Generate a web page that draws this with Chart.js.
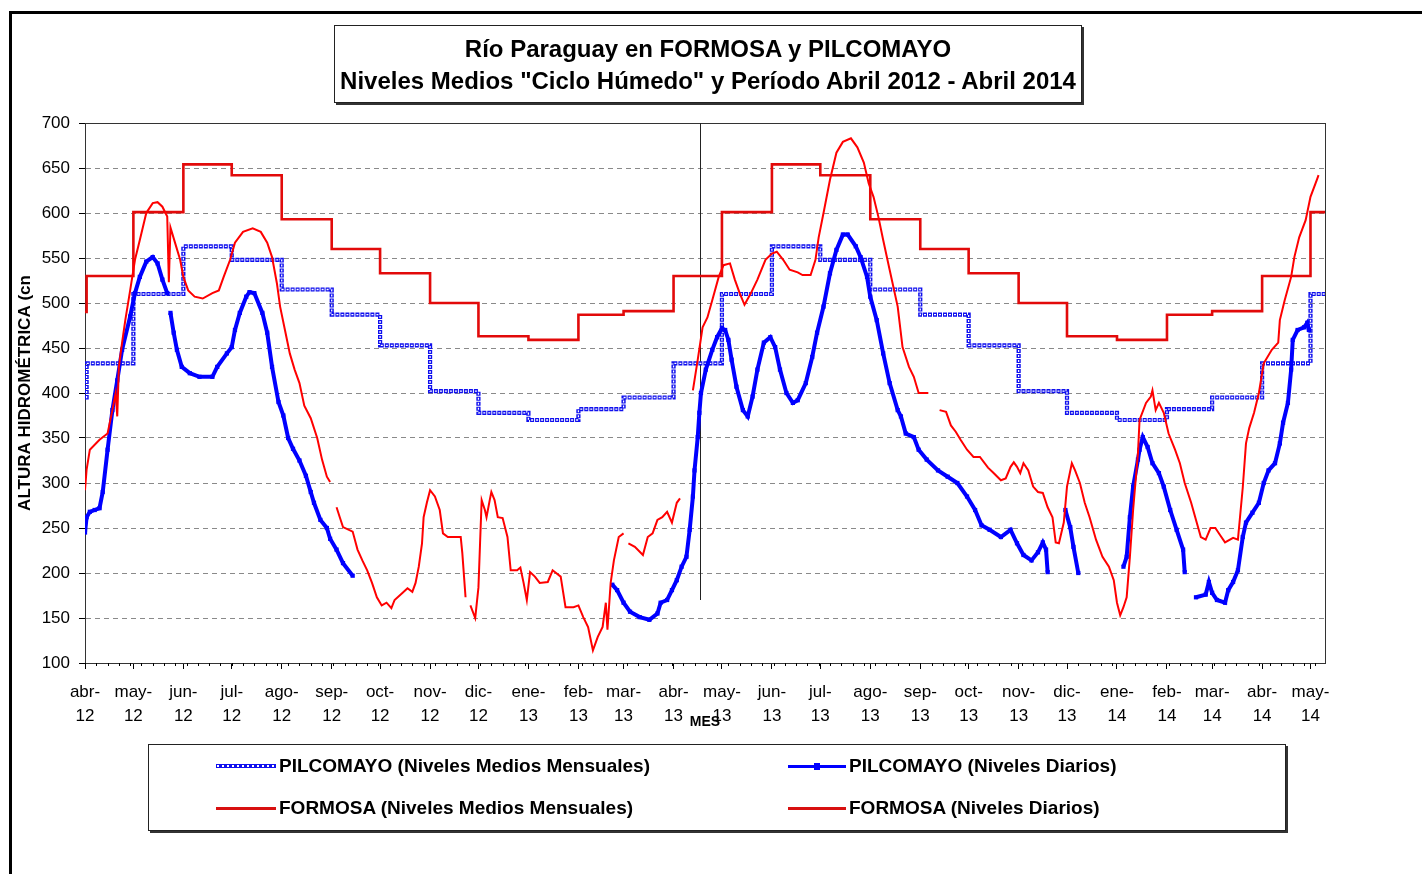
<!DOCTYPE html>
<html>
<head>
<meta charset="utf-8">
<script src="https://cdn.jsdelivr.net/npm/chart.js@4.4.1/dist/chart.umd.min.js"></script>
<style>
html,body{margin:0;padding:0;background:#fff;width:1422px;height:874px;overflow:hidden;font-family:"Liberation Sans",Arial,sans-serif;}
#frame{position:absolute;left:9px;top:11px;width:1420px;height:870px;border-top:3px solid #000;border-left:3px solid #000;}
#c{position:absolute;left:0;top:0;}
#title{position:absolute;left:334px;top:25px;width:746px;height:76px;border:1px solid #222;box-shadow:2px 2px 0 #333;background:#fff;}
#title div{position:absolute;left:0;width:100%;text-align:center;font-weight:bold;font-size:24px;line-height:30px;color:#000;white-space:nowrap;}
#legend{position:absolute;left:148px;top:744px;width:1136px;height:85px;border:1px solid #222;box-shadow:2px 2px 0 #333;background:#fff;}
.item{position:absolute;height:30px;}
.sample{position:absolute;top:13px;height:4px;}
.lbl{position:absolute;top:0;line-height:30px;font-weight:bold;font-size:19px;color:#000;white-space:nowrap;}
</style>
</head>
<body>
<div id="frame"></div>
<canvas id="c" width="1422" height="874"></canvas>
<div id="title">
  <div style="top:8px">Río Paraguay en FORMOSA y PILCOMAYO</div>
  <div style="top:40px">Niveles Medios "Ciclo Húmedo" y Período Abril 2012 - Abril 2014</div>
</div>
<div id="legend"></div>
<script>
// ---------- DATA ----------
const monthLabels = ['abr-12','may-12','jun-12','jul-12','ago-12','sep-12','oct-12','nov-12','dic-12','ene-13','feb-13','mar-13',
                     'abr-13','may-13','jun-13','jul-13','ago-13','sep-13','oct-13','nov-13','dic-13','ene-14','feb-14','mar-14','abr-14','may-14'];
// day offsets (from 1 Apr 2012) of each month start
const monthStartDays = [0,30,61,91,122,153,183,214,244,275,306,334,365,395,426,456,487,518,548,579,609,640,671,699,730,760];
const axisEndDay = 769;
const separatorDay = 381.5;
const separatorLow = 170;

// monthly mean levels (step series), day offsets
const meanDays = [0,1,30,61,91,122,153,183,214,244,275,306,334,365,395,426,456,487,518,548,579,609,640,671,699,730,760,769];
const pilMean  = [395,433,510,563,548,515,487,453,402,378,370,382,395,433,510,563,548,515,487,453,402,378,370,382,395,433,510,510];
const forMean  = [490,530,601,654,642,593,560,533,500,463,459,487,491,530,601,654,642,593,560,533,500,463,459,487,491,530,601,601];

// PILCOMAYO daily levels (null = no data)
const pilDays = [0,1,3,6,9,11,14,17,20,23,28,31,34,38,42,45,48,51,52,53,55,57,60,65,71,79,82,88,91,93,96,100,102,105,110,113,116,120,123,126,129,133,137,140,142,146,150,152,156,160,166,167,
  327,330,334,338,344,350,355,357,361,364,367,370,373,375,377,378,380,381,382,385,389,392,395,397,399,401,404,408,411,414,417,421,425,428,431,435,439,442,447,451,454,458,462,466,470,473,478,481,485,487,491,495,499,504,506,509,514,517,522,529,535,541,547,552,556,561,568,574,578,582,587,591,594,596,597,598,
  608,611,613,616,617,
  644,646,648,650,653,654,656,659,662,666,669,673,677,681,682,683,
  689,695,697,699,702,707,709,712,715,718,720,724,728,731,734,738,741,743,746,748,749,752,756,758,759];
const pilVals = [245,262,268,270,272,290,337,381,414,448,485,511,529,546,551,544,526,511,null,489,467,448,429,422,418,418,429,444,451,470,489,507,512,511,489,467,429,390,375,350,338,325,308,290,278,259,250,238,226,211,197,null,
  187,181,167,157,151,148,155,167,170,181,192,207,218,248,285,314,351,378,400,426,448,462,472,470,459,437,407,381,374,396,426,456,462,451,426,400,389,392,411,440,467,496,533,559,576,576,563,551,529,507,481,444,411,381,374,355,351,337,326,314,307,300,285,270,253,248,240,248,233,220,214,223,234,226,201,null,
  270,251,229,200,null,
  207,218,262,296,326,337,351,340,322,311,296,270,248,226,201,null,
  173,176,190,178,170,167,181,190,203,240,256,267,278,300,314,322,344,367,389,426,459,470,473,478,470];

// FORMOSA daily levels (null = no data)
const forDays = [0,1,3,9,14,17,19,20,21,23,25,28,31,34,38,42,45,48,51,52,53,56,59,61,64,68,73,79,83,86,90,93,98,104,109,113,116,119,121,124,127,130,133,136,140,144,147,150,152,153,
  156,158,160,166,169,172,175,178,181,184,187,190,192,197,200,203,205,207,209,210,212,214,217,220,222,225,233,234,236,237,
  239,242,244,245,246,248,249,251,252,254,256,259,262,264,268,270,272,274,276,279,282,287,290,295,298,303,306,309,312,315,318,321,323,324,326,328,331,334,335,
  337,341,346,349,352,355,358,361,364,367,369,370,
  377,380,383,386,389,393,396,400,403,406,409,413,417,422,426,429,433,437,442,445,450,453,455,458,462,466,470,475,479,483,486,489,492,495,499,504,507,511,514,517,523,524,
  530,534,537,540,543,547,551,555,560,563,568,571,574,576,578,580,582,585,588,591,594,597,600,602,604,607,609,612,614,617,620,623,627,631,635,638,640,642,644,646,648,650,653,654,658,661,662,664,666,669,672,676,679,682,686,689,692,695,698,701,704,707,712,715,718,720,722,725,728,731,736,740,741,744,748,750,753,757,760,764,765];
const forVals = [292,315,337,348,355,381,400,374,429,456,481,514,548,570,600,611,612,607,596,523,584,566,548,529,514,507,505,511,514,529,548,567,579,583,579,567,551,522,496,470,444,426,411,386,372,350,326,307,301,null,
  273,262,251,246,226,214,203,189,173,164,167,161,170,178,183,179,189,207,233,262,278,292,285,270,244,240,240,222,173,null,
  164,150,184,233,281,270,262,281,290,281,262,261,240,203,203,206,189,170,201,196,189,190,203,196,162,162,164,151,140,114,129,140,167,137,189,214,240,244,null,
  233,229,220,240,244,259,262,268,256,278,283,null,
  403,437,473,484,503,529,542,544,526,511,498,511,526,548,555,557,548,537,534,531,531,548,573,600,637,667,679,683,673,656,633,618,596,570,537,496,451,429,418,400,400,null,
  381,379,364,357,348,337,329,329,317,312,303,305,318,323,318,311,322,314,296,290,289,273,262,234,233,256,296,322,314,300,278,262,237,218,207,192,167,153,162,173,218,270,333,370,389,396,403,381,389,378,355,337,322,300,278,259,240,237,250,250,242,234,239,237,295,344,361,378,400,433,448,456,481,503,529,551,573,592,618,637,642];

const seriesLabels = ['PILCOMAYO (Niveles Medios Mensuales)','FORMOSA (Niveles Medios Mensuales)','PILCOMAYO (Niveles Diarios)','FORMOSA (Niveles Diarios)'];

// ---------- CHART ----------
const toPts = (xs, ys) => xs.map((d, i) => ({x: d, y: ys[i]}));
Chart.defaults.font.family = '"Liberation Sans", Arial, sans-serif';
Chart.defaults.color = '#000';

const PIL_MEAN = 0, FOR_MEAN = 1, PIL_DAY = 2, FOR_DAY = 3;

const decor = {
  id: 'decor',
  beforeDatasetsDraw(chart) {
    const {ctx, chartArea: a, scales: {x, y}} = chart;
    ctx.save();
    ctx.strokeStyle = '#333';
    ctx.lineWidth = 1;
    ctx.strokeRect(a.left + 0.5, a.top + 0.5, a.right - a.left, a.bottom - a.top);
    ctx.strokeStyle = '#000';
    ctx.beginPath();
    for (let d = 0; d <= axisEndDay; d += 7) {
      const px = Math.round(x.getPixelForValue(d)) + 0.5;
      ctx.moveTo(px, a.bottom);
      ctx.lineTo(px, a.bottom + 3);
    }
    ctx.stroke();
    const sx = Math.round(x.getPixelForValue(separatorDay)) + 0.5;
    ctx.strokeStyle = '#222';
    ctx.beginPath();
    ctx.moveTo(sx, a.top);
    ctx.lineTo(sx, y.getPixelForValue(separatorLow));
    ctx.stroke();
    ctx.restore();
  },
  afterDatasetDraw(chart, args) {
    if (args.index !== PIL_MEAN) return;
    const {ctx, chartArea: a} = chart;
    const pts = args.meta.data;
    ctx.save();
    ctx.beginPath();
    ctx.rect(a.left, a.top, a.right - a.left, a.bottom - a.top);
    ctx.clip();
    ctx.strokeStyle = '#fff';
    ctx.lineWidth = 1.3;
    ctx.setLineDash([2, 3]);
    ctx.lineDashOffset = -1;
    ctx.beginPath();
    ctx.moveTo(pts[0].x, pts[0].y);
    for (let i = 1; i < pts.length; i++) {
      ctx.lineTo(pts[i].x, pts[i - 1].y);
      ctx.lineTo(pts[i].x, pts[i].y);
    }
    ctx.stroke();
    ctx.restore();
  }
};

const chart = new Chart(document.getElementById('c'), {
  type: 'line',
  data: {
    datasets: [
      {label: seriesLabels[0], data: toPts(meanDays, pilMean), stepped: 'before', borderColor: '#1010ee', borderWidth: 4.2,
       borderDash: [4, 1], pointRadius: 0, order: 3},
      {label: seriesLabels[1], data: toPts(meanDays, forMean), stepped: 'before', borderColor: '#e20a0a', borderWidth: 2.6,
       pointRadius: 0, order: 2},
      {label: seriesLabels[2], data: toPts(pilDays, pilVals), borderColor: '#0000ff', borderWidth: 4, pointStyle: 'rect',
       pointRadius: 3, pointBackgroundColor: '#0000ff', pointBorderWidth: 0, spanGaps: false, order: 1},
      {label: seriesLabels[3], data: toPts(forDays, forVals), borderColor: '#ff0000', borderWidth: 2, pointRadius: 0,
       spanGaps: false, order: 0}
    ]
  },
  options: {
    responsive: false,
    animation: false,
    devicePixelRatio: 1,
    layout: {padding: {left: 0, top: 123, right: 97, bottom: 143}},
    plugins: {legend: {display: false}, tooltip: {enabled: false}, title: {display: false}},
    elements: {line: {tension: 0}},
    scales: {
      x: {
        type: 'linear', min: 0, max: axisEndDay,
        afterBuildTicks: (s) => { s.ticks = monthStartDays.map(v => ({value: v})); },
        afterFit: (s) => { s.height = 68; },
        ticks: {
          autoSkip: false, maxRotation: 0, padding: 11,
          font: {size: 17, lineHeight: 1.41},
          callback: (v) => {
            const i = monthStartDays.indexOf(v);
            if (i < 0) return '';
            const p = monthLabels[i].split('-');
            return [p[0] + '-', p[1]];
          }
        },
        grid: {drawOnChartArea: false, drawTicks: true, tickLength: 6, tickColor: '#000'},
        border: {color: '#000', width: 1},
        title: {display: true, text: 'MES', font: {size: 14, weight: 'bold'}, padding: {top: 0, bottom: 0}}
      },
      y: {
        min: 100, max: 700,
        afterFit: (s) => { s.width = 85; },
        ticks: {stepSize: 50, padding: 9, font: {size: 17}},
        grid: {color: '#8a8a8a', lineWidth: 1, tickLength: 6, tickColor: '#000'},
        border: {color: '#000', width: 1, dash: [5, 4]},
        title: {display: true, text: 'ALTURA HIDROMÉTRICA (cn', font: {size: 17, weight: 'bold'}, padding: {top: 15, bottom: 0}}
      }
    }
  },
  plugins: [decor]
});

// ---------- HTML LEGEND ----------
const legendSlots = [
  {left: 67, top: 6, w: 60, kind: 'dotted'},
  {left: 67, top: 48, w: 60, kind: 'red'},
  {left: 639, top: 6, w: 58, kind: 'blue'},
  {left: 639, top: 48, w: 58, kind: 'red'}
];
const legendEl = document.getElementById('legend');
chart.data.datasets.forEach((ds, i) => {
  const s = legendSlots[i];
  const it = document.createElement('div');
  it.className = 'item';
  it.style.left = s.left + 'px';
  it.style.top = s.top + 'px';
  const smp = document.createElement('div');
  smp.className = 'sample';
  smp.style.left = '0px';
  smp.style.width = s.w + 'px';
  if (s.kind === 'dotted') {
    smp.style.height = '4px';
    smp.style.top = '13px';
    smp.style.background = 'repeating-linear-gradient(90deg,#1010ee 0 1px,#fff 1px 3px,#1010ee 3px 5px)';
    smp.style.borderTop = '1px solid #1010ee';
    smp.style.borderBottom = '1px solid #1010ee';
    smp.style.boxSizing = 'border-box';
  } else if (s.kind === 'blue') {
    smp.style.height = '3px';
    smp.style.top = '14px';
    smp.style.background = '#0000ff';
    const m = document.createElement('div');
    m.style.cssText = 'position:absolute;left:26px;top:-2px;width:6px;height:7px;background:#0000ff;';
    smp.appendChild(m);
  } else {
    smp.style.height = '3px';
    smp.style.top = '14px';
    smp.style.background = '#d81010';
  }
  const t = document.createElement('div');
  t.className = 'lbl';
  t.style.left = (s.w + 3) + 'px';
  t.textContent = ds.label;
  it.appendChild(smp);
  it.appendChild(t);
  legendEl.appendChild(it);
});
</script>
</body>
</html>
